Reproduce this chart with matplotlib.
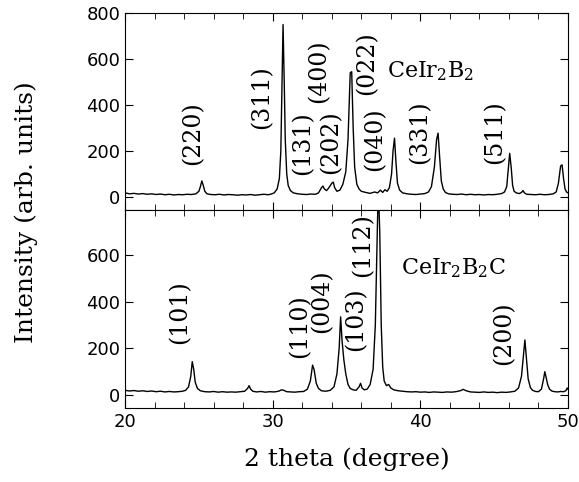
import numpy as np
import matplotlib
matplotlib.use('Agg')
import matplotlib.pyplot as plt
from matplotlib.ticker import MultipleLocator

plt.rcParams['mathtext.fontset'] = 'dejavuserif'

# CeIr2B2 pattern (2 theta, intensity)
top_x = [20.0, 20.3, 20.6, 20.9, 21.2, 21.5, 21.8, 22.1, 22.4, 22.7, 23.0, 23.3, 23.6, 23.9,
         24.2, 24.5, 24.8, 25.0, 25.1, 25.2, 25.3, 25.4, 25.55, 25.8, 26.1, 26.4, 26.7, 27.0,
         27.3, 27.6, 27.9, 28.2, 28.5, 28.8, 29.1, 29.4, 29.7, 29.9, 30.1, 30.3, 30.45, 30.55,
         30.62, 30.7, 30.78, 30.85, 30.95, 31.05, 31.2, 31.4, 31.7, 32.0, 32.3, 32.6, 32.9,
         33.1, 33.3, 33.4, 33.5, 33.65, 33.8, 34.0, 34.1, 34.2, 34.35, 34.55, 34.75, 34.95,
         35.1, 35.25, 35.35, 35.45, 35.55, 35.7, 35.85, 36.0, 36.3, 36.6, 36.9, 37.1, 37.3,
         37.45, 37.6, 37.75, 37.9, 38.05, 38.15, 38.25, 38.35, 38.45, 38.6, 38.8, 39.1, 39.4,
         39.7, 40.0, 40.3, 40.55, 40.75, 40.95, 41.1, 41.2, 41.3, 41.42, 41.55, 41.7, 41.9,
         42.2, 42.5, 42.8, 43.1, 43.4, 43.7, 44.0, 44.3, 44.6, 44.9, 45.2, 45.5, 45.7, 45.85,
         45.95, 46.05, 46.15, 46.25, 46.35, 46.5, 46.7, 46.85, 46.95, 47.05, 47.2, 47.5, 47.8,
         48.1, 48.4, 48.7, 49.0, 49.2, 49.35, 49.5, 49.6, 49.7, 49.8, 49.9, 50.0]
top_y = [18, 14, 16, 13, 15, 12, 14, 11, 13, 10, 12, 9, 11, 10,
         12, 11, 14, 25, 45, 70, 50, 25, 14, 11, 10, 12, 9, 11,
         10, 8, 10, 9, 11, 8, 10, 12, 10, 13, 18, 35, 80, 200,
         450, 750, 500, 250, 100, 50, 28, 18, 14, 12, 11, 13, 12,
         18, 40, 48, 35, 28, 40, 60, 65, 40, 25, 30, 55, 110,
         250, 540, 545, 300, 130, 55, 35, 25, 20, 16, 22, 18, 30,
         20, 32, 25, 40, 100, 200, 256, 150, 60, 30, 18, 14, 12,
         11, 13, 15, 22, 45, 130, 250, 278, 180, 70, 35, 20, 14,
         12, 11, 13, 10, 12, 10, 11, 9, 11, 10, 12, 15, 22, 45,
         120, 190, 130, 50, 25, 18, 15, 20, 28, 18, 12, 11, 10,
         12, 10, 11, 14, 22, 60, 135, 140, 80, 35, 22, 18]

# CeIr2B2C pattern
bot_x = [20.0, 20.3, 20.6, 20.9, 21.2, 21.5, 21.8, 22.1, 22.4, 22.7, 23.0, 23.3, 23.6, 23.9,
         24.1, 24.3, 24.45, 24.55, 24.65, 24.75, 24.9, 25.1, 25.4, 25.7, 26.0, 26.3, 26.6,
         26.9, 27.2, 27.5, 27.8, 28.1, 28.3, 28.4, 28.5, 28.65, 28.9, 29.2, 29.5, 29.8, 30.1,
         30.4, 30.6, 30.75, 30.95, 31.2, 31.5, 31.8, 32.1, 32.35, 32.55, 32.7, 32.8, 32.95,
         33.1, 33.3, 33.6, 33.9, 34.15, 34.35, 34.5, 34.6, 34.7, 34.82, 34.95, 35.1, 35.25,
         35.45, 35.65, 35.85, 35.95, 36.05, 36.2, 36.4, 36.6, 36.8, 36.95, 37.05, 37.15, 37.25,
         37.35, 37.45, 37.55, 37.7, 37.85, 38.0, 38.2, 38.5, 38.8, 39.1, 39.4, 39.7, 40.0,
         40.3, 40.6, 40.9, 41.2, 41.5, 41.8, 42.1, 42.4, 42.7, 42.9, 43.1, 43.4, 43.7, 44.0,
         44.3, 44.6, 44.9, 45.2, 45.5, 45.8, 46.1, 46.4, 46.65, 46.85, 47.0, 47.08, 47.18,
         47.3, 47.45, 47.6, 47.8, 48.0, 48.2, 48.35, 48.43, 48.52, 48.62, 48.75, 48.9, 49.1,
         49.3, 49.5, 49.7, 49.85, 49.95, 50.0]
bot_y = [20, 17, 19, 16, 18, 15, 17, 14, 16, 13, 15, 13, 14, 16,
         20, 35, 80, 143, 110, 55, 28, 18, 14, 13, 15, 12, 14,
         12, 13, 12, 14, 16, 28, 40, 25, 16, 13, 15, 12, 14, 13,
         16, 22, 20, 14, 13, 12, 14, 15, 25, 60, 128, 110, 50,
         28, 18, 16, 20, 35, 90, 200, 335, 230, 150, 90, 45, 28,
         22, 20, 35, 50, 30, 22, 25, 45, 110, 300, 600, 900, 700,
         300, 120, 60, 40, 45, 30, 22, 18, 16, 14, 13, 14, 12,
         13, 11, 13, 12, 11, 13, 12, 14, 18, 24, 18, 13, 12, 11,
         13, 11, 12, 10, 12, 11, 13, 16, 30, 80, 180, 236, 160,
         70, 32, 20, 15, 14, 25, 70, 100, 75, 45, 25, 17, 14,
         13, 15, 14, 18, 30, 25]

# peak labels: (text, x, y)
top_labels = [('(220)', 24.6, 278), ('(311)', 29.25, 436), ('(131)', 32.07, 235),
              ('(202)', 33.93, 237), ('(400)', 33.09, 549), ('(022)', 36.4, 581),
              ('(040)', 36.93, 252), ('(331)', 39.97, 284), ('(511)', 45.05, 281)]
bot_labels = [('(101)', 23.72, 357), ('(110)', 31.85, 297), ('(004)', 33.36, 404),
              ('(103)', 35.6, 326), ('(112)', 36.13, 643), ('(200)', 45.66, 264)]

fig = plt.figure(figsize=(5.79, 4.82), dpi=100)
ax1 = fig.add_axes([0.216, 0.564, 0.765, 0.409])
ax2 = fig.add_axes([0.216, 0.1535, 0.765, 0.4105])

for ax in (ax1, ax2):
    ax.set_xlim(20, 50)
    ax.xaxis.set_major_locator(MultipleLocator(10))
    ax.xaxis.set_minor_locator(MultipleLocator(2))
    ax.yaxis.set_major_locator(MultipleLocator(200))
    ax.tick_params(which='both', direction='in', top=True, right=True, labelsize=13)
    ax.tick_params(which='major', length=6)
    ax.tick_params(which='minor', length=4)

ax1.plot(top_x, top_y, color='black', lw=1.0)
ax1.set_ylim(-57, 800)
ax1.tick_params(labelbottom=False)
for txt, x, y in top_labels:
    ax1.text(x, y, txt, rotation=90, ha='center', va='center', fontsize=17, family='DejaVu Serif')
ax1.text(37.74, 545, r'$\mathrm{CeIr_2B_2}$', ha='left', va='center', fontsize=16)

ax2.plot(bot_x, bot_y, color='black', lw=1.0)
ax2.set_ylim(-56, 793)
ax2.set_yticks([0, 200, 400, 600])
for txt, x, y in bot_labels:
    ax2.text(x, y, txt, rotation=90, ha='center', va='center', fontsize=17, family='DejaVu Serif')
ax2.text(38.67, 544, r'$\mathrm{CeIr_2B_2C}$', ha='left', va='center', fontsize=16)
ax2.set_xlabel('2 theta (degree)', fontsize=18, family='DejaVu Serif', labelpad=12)

fig.text(0.045, 0.56, 'Intensity (arb. units)', rotation=90, ha='center', va='center',
         fontsize=18, family='DejaVu Serif')

fig.savefig('out.png', dpi=100)
